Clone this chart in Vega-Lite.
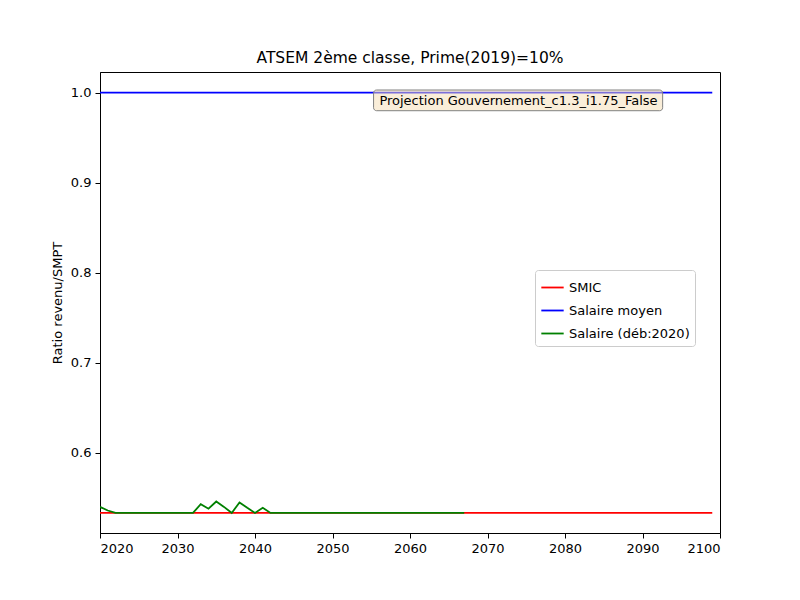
{
  "$schema": "https://vega.github.io/schema/vega-lite/v6.json",
  "width": 620,
  "height": 461,
  "autosize": "none",
  "padding": {"left": 100, "top": 72, "right": 80, "bottom": 67},
  "background": "white",
  "config": {"font": "DejaVu Sans", "view": {"stroke": "black"}, "axis": {"labelFont": "DejaVu Sans", "titleFont": "DejaVu Sans", "labelFontSize": 13, "titleFontSize": 13, "titleFontWeight": "normal", "labelColor": "black", "titleColor": "black", "domainColor": "black", "tickColor": "black", "tickSize": 5, "labelPadding": 4, "grid": false}},
  "title": {"text": "ATSEM 2ème classe, Prime(2019)=10%", "fontSize": 15.5, "fontWeight": "normal", "font": "DejaVu Sans", "offset": 6},
  "datasets": {
    "main": [
      {"year": 2020, "s": "SMIC", "v": 0.5333}, {"year": 2099, "s": "SMIC", "v": 0.5333},
      {"year": 2020, "s": "Salaire moyen", "v": 1.0}, {"year": 2099, "s": "Salaire moyen", "v": 1.0},
      {"year": 2020, "s": "Salaire (déb:2020)", "v": 0.540},
      {"year": 2021, "s": "Salaire (déb:2020)", "v": 0.536},
      {"year": 2022, "s": "Salaire (déb:2020)", "v": 0.5333},
      {"year": 2032, "s": "Salaire (déb:2020)", "v": 0.5333},
      {"year": 2033, "s": "Salaire (déb:2020)", "v": 0.543},
      {"year": 2034, "s": "Salaire (déb:2020)", "v": 0.538},
      {"year": 2035, "s": "Salaire (déb:2020)", "v": 0.546},
      {"year": 2036, "s": "Salaire (déb:2020)", "v": 0.540},
      {"year": 2037, "s": "Salaire (déb:2020)", "v": 0.5333},
      {"year": 2038, "s": "Salaire (déb:2020)", "v": 0.545},
      {"year": 2039, "s": "Salaire (déb:2020)", "v": 0.539},
      {"year": 2040, "s": "Salaire (déb:2020)", "v": 0.5333},
      {"year": 2041, "s": "Salaire (déb:2020)", "v": 0.539},
      {"year": 2042, "s": "Salaire (déb:2020)", "v": 0.5333},
      {"year": 2067, "s": "Salaire (déb:2020)", "v": 0.5333}
    ]
  },
  "layer": [
    {
      "data": {"name": "main"},
      "mark": {"type": "line", "strokeWidth": 1.8, "clip": true},
      "encoding": {
        "x": {"field": "year", "type": "quantitative", "scale": {"domain": [2020, 2100], "nice": false}, "axis": {"values": [2020,2030,2040,2050,2060,2070,2080,2090,2100], "format": "d", "title": null}},
        "y": {"field": "v", "type": "quantitative", "scale": {"domain": [0.511, 1.023], "nice": false, "zero": false}, "axis": {"values": [0.6,0.7,0.8,0.9,1.0], "format": ".1f", "title": "Ratio revenu/SMPT", "titlePadding": 6}},
        "color": {"field": "s", "type": "nominal", "sort": ["SMIC", "Salaire moyen", "Salaire (déb:2020)"], "scale": {"domain": ["SMIC", "Salaire moyen", "Salaire (déb:2020)"], "range": ["red", "blue", "green"]},
          "legend": {"title": null, "orient": "none", "legendX": 435, "legendY": 198, "labelFontSize": 13, "labelFont": "DejaVu Sans", "labelColor": "black", "symbolType": "stroke", "symbolStrokeWidth": 1.8, "symbolSize": 500, "fillColor": "white", "strokeColor": "#cccccc", "padding": 5, "cornerRadius": 3, "rowPadding": 3}}
      }
    },
    {
      "data": {"values": [{"t": "Projection Gouvernement_c1.3_i1.75_False"}]},
      "mark": {"type": "rect", "fill": "#f5deb3", "fillOpacity": 0.5, "stroke": "#808080", "cornerRadius": 3},
      "encoding": {"x": {"datum": 2055.3}, "x2": {"datum": 2092.6}, "y": {"datum": 0.980}, "y2": {"datum": 1.003}}
    },
    {
      "data": {"values": [{"t": "Projection Gouvernement_c1.3_i1.75_False"}]},
      "mark": {"type": "text", "fontSize": 13, "font": "DejaVu Sans", "color": "black"},
      "encoding": {"text": {"field": "t"}, "x": {"datum": 2074}, "y": {"datum": 0.991}}
    }
  ]
}
